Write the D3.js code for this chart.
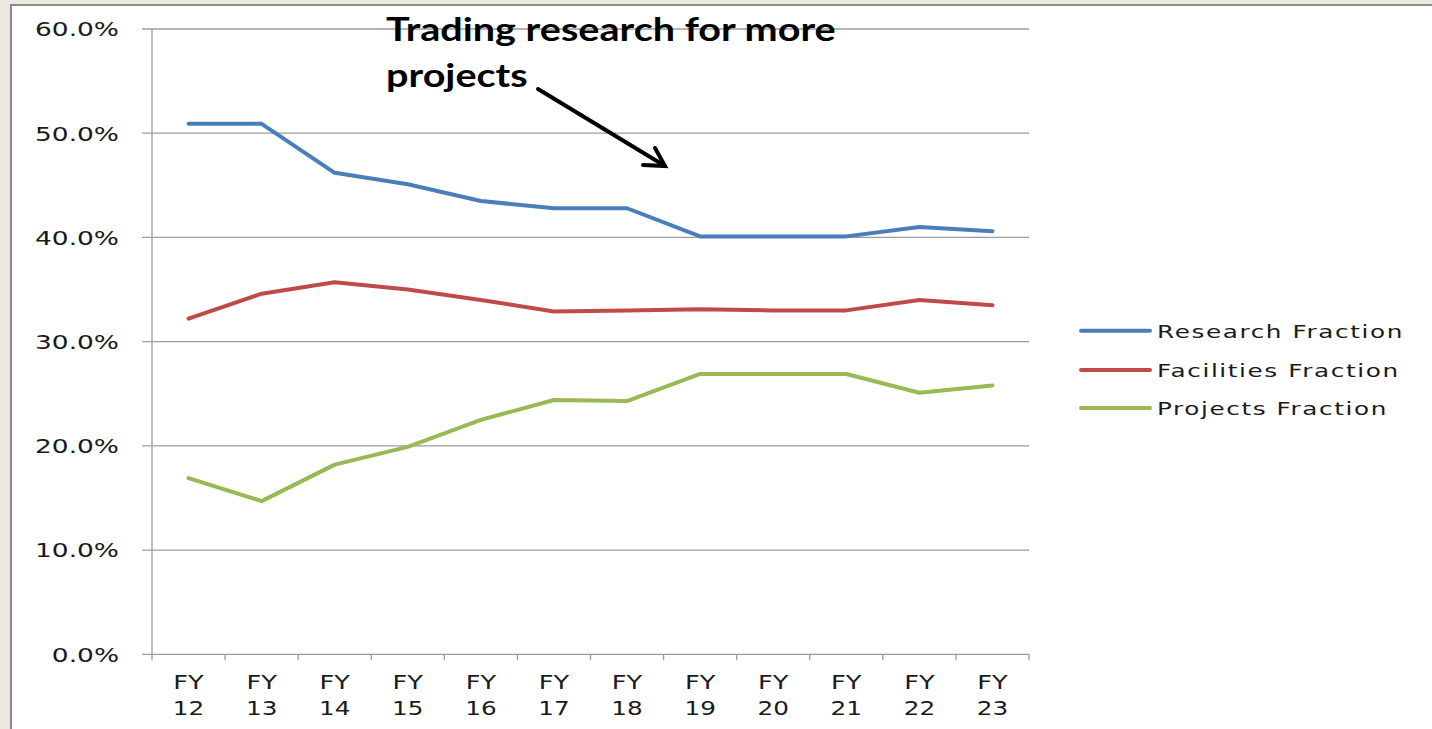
<!DOCTYPE html>
<html><head><meta charset="utf-8">
<script src="https://cdn.jsdelivr.net/npm/d3@7"></script>
<style>
html,body{margin:0;padding:0;background:#ECE9E0;}
svg{display:block;}
</style></head>
<body>
<svg id="chart" width="1432" height="729"></svg>
<script>
const categories = ["FY 12","FY 13","FY 14","FY 15","FY 16","FY 17","FY 18","FY 19","FY 20","FY 21","FY 22","FY 23"];
const seriesNames = ["Research Fraction","Facilities Fraction","Projects Fraction"];
const research   = [0.509,0.509,0.462,0.451,0.435,0.428,0.428,0.401,0.401,0.401,0.410,0.406];
const facilities = [0.322,0.346,0.357,0.350,0.340,0.329,0.330,0.331,0.330,0.330,0.340,0.335];
const projects   = [0.169,0.147,0.182,0.199,0.225,0.244,0.243,0.269,0.269,0.269,0.251,0.258];
const yTicks = [0,0.1,0.2,0.3,0.4,0.5,0.6];
const annotationLines = ["Trading research for more","projects"];
const colors = ["#4A7EBB","#BE4B48","#98B954"];

(function(){
const svg = d3.select("#chart");
svg.append("rect").attr("x",0).attr("y",0).attr("width",1432).attr("height",729).attr("fill","#ECE9E0");
svg.append("rect").attr("x",11).attr("y",5).attr("width",1440).attr("height",740)
  .attr("fill","#fff").attr("stroke","#8A8A8A").attr("stroke-width",2);

const pl=152, pr=1029, pt=29, pb=654.3;
const x = d3.scaleBand().domain(categories).range([pl,pr]).padding(0);
const xc = d => x(d) + x.bandwidth()/2;
const y = d3.scaleLinear().domain([0,0.6]).range([pb,pt]);
const fmt = d3.format(".1%");

function stretch(sel, f){
  sel.each(function(){
    const t=d3.select(this);
    const px=+t.attr("data-x"), py=+t.attr("data-y");
    t.attr("transform",`translate(${px},${py}) scale(${f},1)`);
  });
}

svg.append("g").selectAll("line").data(yTicks).join("line")
  .attr("x1",pl-10).attr("x2",pr).attr("y1",d=>y(d)).attr("y2",d=>y(d))
  .attr("stroke","#9C9C9C").attr("stroke-width",1.3);
svg.append("line").attr("x1",pl).attr("x2",pl).attr("y1",pt).attr("y2",pb+0.5)
  .attr("stroke","#9C9C9C").attr("stroke-width",1.3);
const edges = categories.map(c=>x(c)).concat([pr]);
svg.append("g").selectAll("line").data(edges).join("line")
  .attr("x1",d=>d).attr("x2",d=>d).attr("y1",pb).attr("y2",pb+6)
  .attr("stroke","#9C9C9C").attr("stroke-width",1.3);

const yl = svg.append("g").selectAll("text").data(yTicks).join("text")
  .attr("data-x",119).attr("data-y",d=>y(d)+7.3)
  .attr("text-anchor","end").attr("font-family","DejaVu Sans").attr("font-size",20)
  .attr("fill","#1a1a1a").text(d=>fmt(d));
const yw = yl.filter(d=>d===0.6).node().getComputedTextLength();
yl.call(stretch, 84/yw);

const xl = svg.append("g").selectAll("g").data(categories).join("g");
xl.append("text").attr("data-x",d=>xc(d)).attr("data-y",688.5)
  .attr("text-anchor","middle").attr("font-family","DejaVu Sans").attr("font-size",19)
  .attr("fill","#1a1a1a").text(d=>d.split(" ")[0]).call(stretch,1.35);
xl.append("text").attr("data-x",d=>xc(d)).attr("data-y",714.5)
  .attr("text-anchor","middle").attr("font-family","DejaVu Sans").attr("font-size",19)
  .attr("fill","#1a1a1a").text(d=>d.split(" ")[1]).call(stretch,1.3);

const allSeries = [research,facilities,projects];
const line = d3.line().x((d,i)=>xc(categories[i])).y(d=>y(d));
svg.append("g").selectAll("path").data(allSeries).join("path")
  .attr("d",line).attr("fill","none").attr("stroke",(d,i)=>colors[i])
  .attr("stroke-width",4).attr("stroke-linejoin","round").attr("stroke-linecap","round");

const legY = [330.7,370,408];
const lg = svg.append("g").selectAll("g").data(seriesNames).join("g");
lg.append("line").attr("x1",1081).attr("x2",1150).attr("y1",(d,i)=>legY[i]).attr("y2",(d,i)=>legY[i])
  .attr("stroke",(d,i)=>colors[i]).attr("stroke-width",4).attr("stroke-linecap","round");
const lt = lg.append("text").attr("data-x",1157).attr("data-y",(d,i)=>legY[i]+6.8)
  .attr("font-family","DejaVu Sans").attr("font-size",18.5).attr("letter-spacing",1.2)
  .attr("fill","#1a1a1a").text(d=>d);
const lw = lt.node().getComputedTextLength();
lt.call(stretch, 247/lw);

const ann = svg.append("g");
ann.selectAll("text").data(annotationLines).join("text")
  .attr("data-x",386).attr("data-y",(d,i)=>41+i*45.5)
  .attr("font-family","Lato").attr("font-weight","bold").attr("font-size",32)
  .attr("fill","#000").text(d=>d);
const firstW = ann.select("text").node().getComputedTextLength();
ann.selectAll("text").call(stretch, 450/firstW);

const ag = svg.append("g").attr("stroke","#000").attr("stroke-width",4).attr("stroke-linecap","round").attr("fill","none");
ag.append("line").attr("x1",538).attr("y1",89).attr("x2",665).attr("y2",166);
ag.append("polyline").attr("points","643,165 665,166 655,148");
})();
</script>
</body></html>
